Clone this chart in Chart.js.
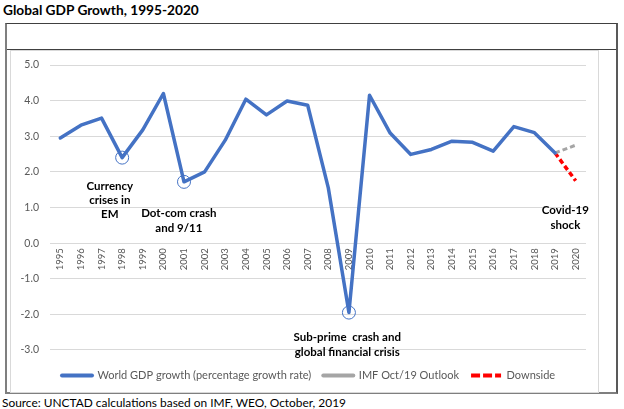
<!DOCTYPE html>
<html>
<head>
<meta charset="utf-8">
<script src="https://cdn.jsdelivr.net/npm/chart.js@4.4.0/dist/chart.umd.min.js"></script>
<style>
  body { margin: 0; background: #fff; width: 624px; height: 409px; position: relative; overflow: hidden; font-family: Lato, "Open Sans", sans-serif; }
  #title { position: absolute; left: 3px; top: 1px; font-weight: bold; font-size: 13.7px; color: #000; }
  #frame { position: absolute; left: 5px; top: 23px; width: 609px; height: 368px;
           border-top: 1px solid #404040; border-left: 2px solid #7f7f7f;
           border-right: 2px solid #595959; border-bottom: 2px solid #7f7f7f; }
  #header { position: absolute; left: 0; top: 0; width: 100%; height: 25px; border-bottom: 1px solid #404040; }
  #plotbox { position: absolute; left: 10px; top: 50px; width: 587px; height: 341px;
             border: 1px solid #d9d9d9; background: #fff; }
  #wrap { position: absolute; left: 0; top: 0; width: 587px; height: 341px; }
  #source { position: absolute; left: 2px; top: 395px; font-size: 11.9px; color: #000; }
</style>
</head>
<body>
<div id="title">Global GDP Growth, 1995-2020</div>
<div id="frame"><div id="header"></div></div>
<div id="plotbox"><div id="wrap"><canvas id="gdpChart"></canvas></div></div>
<div id="source">Source: UNCTAD calculations based on IMF, WEO, October, 2019</div>

<script>
// --- Datos ---
const years = ['1995', '1996', '1997', '1998', '1999', '2000', '2001', '2002', '2003', '2004',
  '2005', '2006', '2007', '2008', '2009', '2010', '2011', '2012', '2013', '2014',
  '2015', '2016', '2017', '2018', '2019', '2020'];

const worldGrowth = [2.95, 3.31, 3.51, 2.4, 3.18, 4.2, 1.72, 2.0, 2.89, 4.04,
  3.6, 3.99, 3.87, 1.55, -1.95, 4.15, 3.09, 2.49, 2.63, 2.86,
  2.83, 2.58, 3.27, 3.1, 2.53, null];

const imfOutlook = [null, null, null, null, null, null, null, null, null, null,
  null, null, null, null, null, null, null, null, null, null,
  null, null, null, null, 2.53, 2.75];

const downside = [null, null, null, null, null, null, null, null, null, null,
  null, null, null, null, null, null, null, null, null, null,
  null, null, null, null, 2.53, 1.75];

const circledYears = ['1998', '2001', '2009'];
const yTicks = [-3, -2, -1, 0, 1, 2, 3, 4, 5];

const seriesNames = ['World GDP growth (percentage growth rate)', 'IMF Oct/19 Outlook', 'Downside'];

// notas: texto, posición en categorías (índice) y valor
const notes = [
  { lines: ['Currency', 'crises in', 'EM'], at: 2.4, value: 1.6 },
  { lines: ['Dot-com crash', 'and 9/11'], at: 5.75, value: 0.83 },
  { lines: ['Sub-prime  crash and', 'global financial crisis'], at: 13.92, value: -2.65 },
  { lines: ['Covid-19', 'shock'], at: 24.5, value: 0.91 }
];

const blue = '#4472C4';
const gray = '#A5A5A5';
const red = '#FF0000';

// --- Plugin de anotaciones ---
const notesPlugin = {
  id: 'notes',
  afterDatasetsDraw(chart) {
    const { ctx, scales: { x, y } } = chart;
    ctx.save();
    ctx.font = 'bold 11.5px Lato, "Open Sans", sans-serif';
    ctx.fillStyle = '#000';
    ctx.textAlign = 'center';
    ctx.textBaseline = 'middle';
    notes.forEach(note => {
      const px = x.getPixelForValue(note.at);
      const py = y.getPixelForValue(note.value);
      note.lines.forEach((line, i) => {
        ctx.fillText(line, px, py + i * 14.3);
      });
    });
    ctx.restore();
  }
};

const ctx = document.getElementById('gdpChart').getContext('2d');

new Chart(ctx, {
  type: 'line',
  data: {
    labels: years,
    datasets: [
      {
        label: seriesNames[0],
        data: worldGrowth,
        borderColor: blue,
        borderWidth: 3.5,
        borderCapStyle: 'round',
        borderJoinStyle: 'round',
        pointRadius: years.map(yr => circledYears.includes(yr) ? 6.5 : 0),
        pointBackgroundColor: 'rgba(0,0,0,0)',
        pointBorderColor: blue,
        pointBorderWidth: 1,
        pointHoverRadius: 0,
        tension: 0,
        order: 1
      },
      {
        label: seriesNames[1],
        data: imfOutlook,
        borderColor: gray,
        borderWidth: 3,
        borderDash: [5, 3],
        pointRadius: 0,
        tension: 0,
        order: 2
      },
      {
        label: seriesNames[2],
        data: downside,
        borderColor: red,
        borderWidth: 3.5,
        borderDash: [5, 3],
        pointRadius: 0,
        tension: 0,
        order: 2
      }
    ]
  },
  options: {
    responsive: true,
    maintainAspectRatio: false,
    animation: false,
    layout: { padding: { top: 14, right: 12, bottom: 1, left: 0 } },
    plugins: {
      tooltip: { enabled: false },
      legend: {
        position: 'bottom',
        fullSize: false,
        align: 'start',
        labels: {
          padding: 12,
          usePointStyle: true,
          pointStyleWidth: 30,
          color: '#595959',
          font: { family: 'Lato, "Open Sans", sans-serif', size: 11 },
          generateLabels(chart) {
            const caps = ['round', 'round', 'butt'];
            const dashes = [[], [], [9, 3]];
            return chart.data.datasets.map((ds, i) => ({
              text: ds.label,
              strokeStyle: ds.borderColor,
              fillStyle: ds.borderColor,
              lineWidth: 4,
              lineDash: dashes[i],
              lineCap: caps[i],
              pointStyle: 'line',
              fontColor: '#595959',
              hidden: false,
              datasetIndex: i
            }));
          }
        }
      }
    },
    scales: {
      x: {
        type: 'category',
        offset: true,
        position: { y: 0 },
        grid: { display: false, drawTicks: false },
        border: { display: false },
        ticks: {
          autoSkip: false,
          minRotation: 90,
          maxRotation: 90,
          padding: 5,
          color: '#595959',
          font: { family: 'Lato, "Open Sans", sans-serif', size: 9.5 }
        }
      },
      y: {
        min: -3.225,
        max: 5,
        afterFit(scale) { scale.width = 39; },
        afterBuildTicks(scale) { scale.ticks = yTicks.map(v => ({ value: v })); },
        grid: { color: '#d9d9d9', lineWidth: 1, drawTicks: true, tickLength: 8, tickColor: 'rgba(0,0,0,0)' },
        border: { display: false },
        ticks: {
          padding: 3,
          color: '#595959',
          font: { family: 'Lato, "Open Sans", sans-serif', size: 10.5 },
          callback: v => v.toFixed(1)
        }
      }
    }
  },
  plugins: [notesPlugin]
});
</script>
</body>
</html>
